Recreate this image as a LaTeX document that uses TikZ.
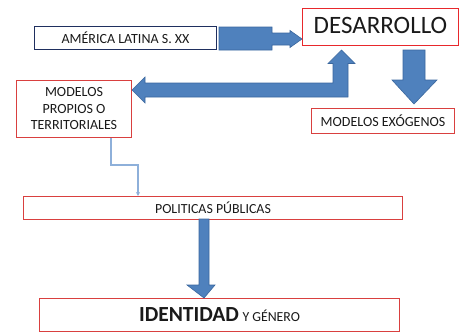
\documentclass[tikz,border=0pt]{standalone}
\usepackage{fontspec}
\setmainfont{Carlito}
\usetikzlibrary{arrows.meta}
\definecolor{boxred}{HTML}{D9403F}
\definecolor{brightred}{HTML}{E8282C}
\definecolor{navy}{HTML}{1F2F5F}
\definecolor{arrowblue}{HTML}{4F81BD}
\definecolor{arrowedge}{HTML}{3A679E}
\definecolor{thinblue}{HTML}{8EB0DA}
\definecolor{txt}{HTML}{1A1A1A}
\tikzset{
  box/.style={draw=boxred, line width=1pt, fill=white, text=txt, inner sep=0pt, anchor=north west, align=center},
  blockarrow/.style={fill=arrowblue, draw=arrowedge, line width=0.6pt, line join=miter},
}
\begin{document}
\begin{tikzpicture}[x=1pt,y=-1pt]
\useasboundingbox (0,0) rectangle (459,332);
% boxes
\node[box, draw=navy, minimum width=182pt, minimum height=23pt, font=\fontsize{14}{16}\selectfont] (america) at (34,26) {AMÉRICA LATINA S. XX};
\node[box, draw=brightred, minimum width=156pt, minimum height=37pt, font=\fontsize{25}{28}\selectfont] (desarrollo) at (302,8) {DESARROLLO\rule[-3pt]{0pt}{1pt}};
\node[box, minimum width=143pt, minimum height=25pt, font=\fontsize{14}{16}\selectfont] (exogenos) at (311,108) {MODELOS EXÓGENOS};
\node[box, minimum width=115pt, minimum height=57pt, font=\fontsize{14}{16.5}\selectfont] (propios) at (16,80) {MODELOS\\PROPIOS O\\TERRITORIALES};
\node[box, minimum width=379pt, minimum height=23pt, font=\fontsize{13.9}{16}\selectfont] (politicas) at (23,196) {POLITICAS PÚBLICAS};
\node[box, minimum width=360pt, minimum height=33pt] (identidad) at (39,297.5) {\fontsize{21.5}{24}\selectfont\textbf{IDENTIDAD}\,\fontsize{13.8}{16}\selectfont Y GÉNERO};
% block arrow America -> Desarrollo
\draw[blockarrow] (219,27) -- (272,27) -- (272,33) -- (290,33) -- (290,30.5) -- (302,39) -- (290,47.5) -- (290,45) -- (272,45) -- (272,50) -- (219,50) -- cycle;
% down arrow Desarrollo -> Exogenos
\draw[blockarrow] (403,50) -- (425,50) -- (425,80) -- (437,80) -- (414,104) -- (392,80) -- (403,80) -- cycle;
% bent arrow
\draw[blockarrow] (341.5,50) -- (355,63.5) -- (348,63.5) -- (348,97) -- (145,97) -- (145,103) -- (132,90) -- (145,77) -- (145,83) -- (333,83) -- (333,63.5) -- (328,63.5) -- cycle;
% down arrow Politicas -> Identidad
\draw[blockarrow] (199,219) -- (209,219) -- (209,285) -- (215,285) -- (204,298) -- (187,285) -- (199,285) -- cycle;
% thin connector
\coordinate (bend1) at (111,165);
\draw[thinblue, line width=1.2pt, -{Stealth[length=4pt,width=4pt]}] (propios.south -| bend1) -- (bend1) -- (bend1 -| 138,0) -- (138,0 |- politicas.north);
\end{tikzpicture}
\end{document}
